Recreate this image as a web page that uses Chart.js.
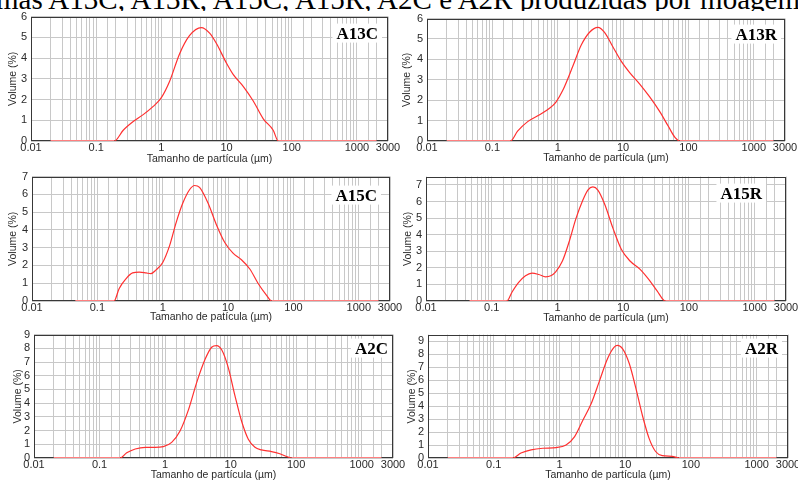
<!DOCTYPE html>
<html>
<head>
<meta charset="utf-8">
<script src="https://cdn.jsdelivr.net/npm/chart.js@4.4.1/dist/chart.umd.min.js"></script>
<style>
  html, body { margin: 0; padding: 0; background: #fff; }
  body { width: 798px; height: 481px; position: relative; overflow: hidden; }
  .panel { position: absolute; }
  #captionBox { position: absolute; left: 0; top: 0; width: 798px; height: 11px; overflow: hidden; }
  #caption {
    position: absolute; left: -4px; top: -15px; white-space: nowrap;
    font-family: "Liberation Serif", "Times New Roman", serif; font-size: 29px; line-height: 29px; color: #000;
  }
</style>
</head>
<body>
<div id="captionBox"><div id="caption">mas A13C, A13R, A15C, A15R, A2C e A2R produzidas por moagem</div></div>
<div class="panel" id="p1"><canvas id="c1"></canvas></div>
<div class="panel" id="p2"><canvas id="c2"></canvas></div>
<div class="panel" id="p3"><canvas id="c3"></canvas></div>
<div class="panel" id="p4"><canvas id="c4"></canvas></div>
<div class="panel" id="p5"><canvas id="c5"></canvas></div>
<div class="panel" id="p6"><canvas id="c6"></canvas></div>
<script>
const a13cSize = [0.02, 0.19, 0.26, 0.37, 0.52, 0.75, 1.0, 1.34, 1.9, 2.7, 4.1, 5.5, 7.0, 10, 12.7, 18, 25.7, 36.6, 52, 62, 2000];
const a13cVol  = [0, 0, 0.52, 0.94, 1.26, 1.67, 2.09, 2.88, 4.2, 5.08, 5.47, 5.2, 4.7, 3.75, 3.2, 2.64, 1.93, 1.07, 0.52, 0, 0];

const a13rSize = [0.02, 0.19, 0.243, 0.347, 0.52, 0.74, 0.94, 1.19, 1.7, 2.28, 3.07, 4.12, 5.2, 7.0, 9.4, 12.7, 18.1, 25.7, 36.6, 49.2, 62.6, 74, 2000];
const a13rVol  = [0, 0, 0.48, 0.95, 1.27, 1.59, 1.91, 2.47, 3.66, 4.69, 5.33, 5.57, 5.33, 4.61, 3.9, 3.34, 2.78, 2.15, 1.43, 0.72, 0.16, 0, 0];

const a15cSize = [0.046, 0.18, 0.215, 0.273, 0.346, 0.438, 0.554, 0.66, 0.79, 1.0, 1.27, 1.6, 2.03, 2.57, 3.07, 3.66, 4.93, 6.6, 8.9, 11.9, 16, 21.5, 29, 38.8, 46.5, 2000];
const a15cVol  = [0, 0, 0.69, 1.24, 1.58, 1.62, 1.58, 1.54, 1.75, 2.17, 3.1, 4.4, 5.51, 6.26, 6.5, 6.39, 5.51, 4.31, 3.29, 2.69, 2.32, 1.8, 0.97, 0.32, 0, 0];

const a15rSize = [0.046, 0.17, 0.203, 0.257, 0.326, 0.41, 0.52, 0.66, 0.79, 0.94, 1.19, 1.51, 1.91, 2.42, 2.9, 3.46, 4.12, 5.2, 7.0, 9.4, 12.7, 18.1, 24.3, 32.6, 43.7, 2000];
const a15rVol  = [0, 0, 0.53, 1.12, 1.52, 1.68, 1.6, 1.46, 1.52, 1.76, 2.41, 3.59, 4.97, 6.06, 6.69, 6.88, 6.69, 5.86, 4.38, 3.1, 2.41, 1.91, 1.32, 0.63, 0, 0];

const a2cSize = [0.02, 0.206, 0.26, 0.35, 0.5, 0.7, 0.94, 1.26, 1.69, 2.27, 3.04, 4.06, 5.13, 6.1, 7.3, 9.2, 11.6, 14.7, 18.6, 23.5, 29.6, 42, 56.3, 75.5, 85, 2000];
const a2cVol  = [0, 0, 0.38, 0.66, 0.78, 0.78, 0.83, 1.14, 1.97, 3.51, 5.52, 7.18, 8.08, 8.2, 7.89, 6.59, 4.57, 2.68, 1.37, 0.78, 0.59, 0.47, 0.31, 0.07, 0, 0];

const a2rSize = [0.02, 0.196, 0.26, 0.37, 0.56, 0.89, 1.26, 1.69, 2.26, 3.02, 4.04, 5.4, 6.8, 7.65, 9.1, 11.5, 14.5, 18.3, 23.1, 29, 36.7, 52, 65.7, 2000];
const a2rVol  = [0, 0, 0.38, 0.63, 0.75, 0.8, 1.0, 1.63, 2.89, 4.15, 5.9, 7.66, 8.54, 8.67, 8.42, 7.29, 5.4, 3.27, 1.51, 0.5, 0.18, 0.13, 0, 0];

// eixos
const xTickValues = [0.01, 0.1, 1, 10, 100, 1000, 3000];
const xTickLabels = ['0.01', '0.1', '1', '10', '100', '1000', '3000'];
const yMaxes = [6, 6, 7, 7.5, 9, 9.5];
const sampleNames = ['A13C', 'A13R', 'A15C', 'A15R', 'A2C', 'A2R'];
const xTitles = ['Tamanho de partícula (µm)', 'Tamanho de partícula (µm)', 'Tamanho de patícula (µm)',
                 'Tamanho de partícula (µm)', 'Tamanho de partícula (µm)', 'Tamanho de partícula (µm)'];

// posição de cada painel na página
const panels = [
    { id: 1, left: 0,   top: 6,   width: 402, height: 159, yw: 31, xh: 24, padRight: 14, yPad: 7,  lblRight: 10, lblTop: 22, size: a13cSize, vol: a13cVol },
    { id: 2, left: 400, top: 8,   width: 399, height: 156, yw: 27, xh: 23, padRight: 14, yPad: 1,  lblRight: 8,  lblTop: 21, size: a13rSize, vol: a13rVol },
    { id: 3, left: 0,   top: 166, width: 404, height: 157, yw: 32, xh: 22, padRight: 14, yPad: 7,  lblRight: 13, lblTop: 24, size: a15cSize, vol: a15cVol },
    { id: 4, left: 400, top: 166, width: 400, height: 158, yw: 26, xh: 23, padRight: 14, yPad: 2,  lblRight: 24, lblTop: 22, size: a15rSize, vol: a15rVol },
    { id: 5, left: 0,   top: 324, width: 407, height: 157, yw: 34, xh: 23, padRight: 14, yPad: 12, lblRight: 5,  lblTop: 19, size: a2cSize,  vol: a2cVol },
    { id: 6, left: 400, top: 324, width: 402, height: 157, yw: 28, xh: 23, padRight: 14, yPad: 6,  lblRight: 10, lblTop: 19, size: a2rSize,  vol: a2rVol }
];

// moldura do gráfico e nome da amostra
const framePlugin = {
    id: 'frame',
    beforeDatasetsDraw(chart) {
        const a = chart.chartArea;
        const ctx = chart.ctx;
        ctx.save();
        ctx.strokeStyle = '#383838';
        ctx.lineWidth = 1;
        ctx.strokeRect(Math.round(a.left) + 0.5, Math.round(a.top) + 0.5,
                       Math.round(a.right - a.left) - 1, Math.round(a.bottom - a.top) - 1);
        ctx.restore();
    },
    afterDraw(chart, args, opts) {
        const a = chart.chartArea;
        const ctx = chart.ctx;
        ctx.save();
        ctx.font = 'bold 17px "Liberation Serif", "Times New Roman", serif';
        const w = ctx.measureText(opts.name).width;
        const x = a.right - opts.right - w;
        const y = a.top + opts.top;
        ctx.fillStyle = '#fff';
        ctx.fillRect(x - 4, y - 15, w + 8, 19);
        ctx.fillStyle = '#000';
        ctx.textBaseline = 'alphabetic';
        ctx.fillText(opts.name, x, y);
        ctx.restore();
    }
};

const gridColor = '#c8c8c8';
const textColor = '#2a2a2a';
const tickFont = { family: '"Liberation Sans", Arial, sans-serif', size: 11 };
const titleFont = { family: '"Liberation Sans", Arial, sans-serif', size: 10.5 };

// trecho em zero fica mais claro e grosso, como no original
const isZero = (c) => c.p0.parsed.y === 0 && c.p1.parsed.y === 0;

panels.forEach((p, i) => {
    const box = document.getElementById('p' + p.id);
    box.style.left = p.left + 'px';
    box.style.top = p.top + 'px';
    box.style.width = p.width + 'px';
    box.style.height = p.height + 'px';

    const ctx = document.getElementById('c' + p.id).getContext('2d');
    new Chart(ctx, {
        type: 'line',
        data: {
            datasets: [{
                label: sampleNames[i],
                data: p.size.map((s, k) => ({ x: s, y: p.vol[k] })),
                borderColor: '#ff3030',
                borderWidth: 1.2,
                pointRadius: 0,
                fill: false,
                cubicInterpolationMode: 'monotone',
                segment: {
                    borderColor: (c) => isZero(c) ? '#ff7f7f' : undefined,
                    borderWidth: (c) => isZero(c) ? 2 : undefined
                }
            }]
        },
        options: {
            responsive: true,
            maintainAspectRatio: false,
            animation: false,
            layout: { padding: { top: 8, right: p.padRight, left: 0, bottom: 0 } },
            plugins: {
                legend: { display: false },
                tooltip: { enabled: false },
                frame: { name: sampleNames[i], right: p.lblRight, top: p.lblTop }
            },
            scales: {
                x: {
                    type: 'logarithmic',
                    min: 0.01,
                    max: 3000,
                    grid: { color: gridColor, drawTicks: false },
                    border: { display: false },
                    ticks: {
                        autoSkip: false,
                        maxRotation: 0,
                        minRotation: 0,
                        padding: 0,
                        color: textColor,
                        font: tickFont,
                        callback: (v) => {
                            const k = xTickValues.findIndex(t => Math.abs(Math.log10(t) - Math.log10(v)) < 1e-6);
                            return k >= 0 ? xTickLabels[k] : '';
                        }
                    },
                    title: {
                        display: true,
                        text: xTitles[i],
                        color: textColor,
                        font: titleFont,
                        padding: { top: 0, bottom: 0 }
                    },
                    afterFit: (scale) => { scale.height = p.xh; }
                },
                y: {
                    min: 0,
                    max: yMaxes[i],
                    grid: { color: gridColor, drawTicks: false },
                    border: { display: false },
                    ticks: {
                        stepSize: 1,
                        autoSkip: false,
                        includeBounds: false,
                        padding: 4,
                        color: textColor,
                        font: tickFont,
                        callback: (v) => Number.isInteger(v) ? String(v) : ''
                    },
                    title: {
                        display: true,
                        text: 'Volume (%)',
                        color: textColor,
                        font: titleFont,
                        padding: { top: p.yPad, bottom: 0 }
                    },
                    afterFit: (scale) => { scale.width = p.yw; }
                }
            }
        },
        plugins: [framePlugin]
    });
});
</script>
</body>
</html>
